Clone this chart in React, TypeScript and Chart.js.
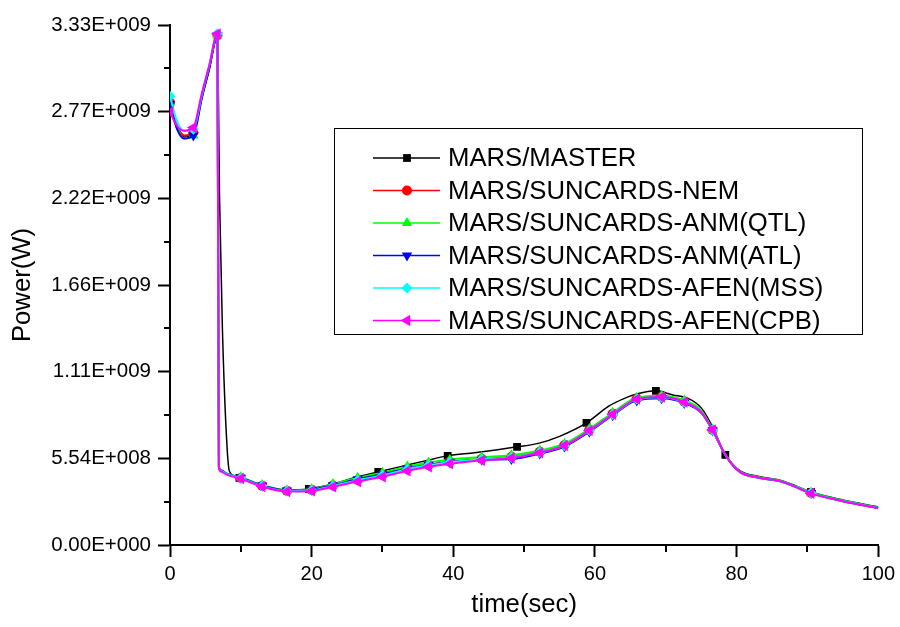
import React, { useEffect, useRef } from 'react';
import { Chart, registerables } from 'chart.js';
import { drawPoint } from 'chart.js/helpers';

Chart.register(...registerables);

// ---- Data ----
const masterTimes = [0, 1, 2, 3.3, 4.5, 5.5, 6.7, 7.0, 7.4, 8.0, 8.4, 9.8, 13, 16.5, 19.6, 23, 26, 29.4, 33, 36, 39.2, 43, 46, 49, 52, 55, 58.8, 62, 64, 66, 68.6, 71, 73, 75, 76.6, 78.4, 80.5, 83, 86.5, 90.5, 95, 100];
const masterPower = [28.2e8, 26.8e8, 26.1e8, 26.4e8, 28.6e8, 30.4e8, 32.5e8, 22.1e8, 13.8e8, 6.7e8, 4.7e8, 4.3e8, 3.8e8, 3.52e8, 3.59e8, 3.9e8, 4.3e8, 4.67e8, 5.06e8, 5.38e8, 5.7e8, 5.9e8, 6.08e8, 6.28e8, 6.5e8, 6.95e8, 7.81e8, 8.9e8, 9.35e8, 9.67e8, 9.86e8, 9.6e8, 9.41e8, 8.77e8, 7.56e8, 5.76e8, 4.74e8, 4.4e8, 4.1e8, 3.39e8, 2.88e8, 2.43e8];
const masterMarkerTimes = [0, 9.8, 19.6, 29.4, 39.2, 49, 58.8, 68.6, 78.4, 90.5];

const suncardsTimes = [0, 1, 2, 3.3, 4.5, 5.5, 6.7, 6.9, 7.2, 8, 10, 13, 16.5, 20, 23, 26.5, 30, 33.5, 36.5, 39.5, 44, 48.2, 52.2, 55.7, 59.2, 62.5, 65.9, 69.4, 72.6, 75, 76.6, 78.5, 80.5, 83, 86.5, 90.5, 95, 100];
const suncardsMarkerTimes = [0, 3.3, 6.7, 10, 13, 16.5, 20, 23, 26.5, 30, 33.5, 36.5, 39.5, 44, 48.2, 52.2, 55.7, 59.2, 62.5, 65.9, 69.4, 72.6, 76.6, 90.5];

const nemPower = [28.3e8, 26.8e8, 26.2e8, 26.4e8, 28.7e8, 30.4e8, 32.6e8, 5.0e8, 4.74e8, 4.55e8, 4.29e8, 3.78e8, 3.46e8, 3.52e8, 3.8e8, 4.16e8, 4.48e8, 4.87e8, 5.12e8, 5.32e8, 5.51e8, 5.64e8, 5.96e8, 6.4e8, 7.36e8, 8.39e8, 9.35e8, 9.48e8, 9.16e8, 8.52e8, 7.36e8, 5.7e8, 4.67e8, 4.33e8, 4.05e8, 3.33e8, 2.82e8, 2.37e8];
const anmQtlPower = [28.3e8, 26.7e8, 26.0e8, 26.2e8, 28.6e8, 30.4e8, 32.6e8, 5.0e8, 4.74e8, 4.57e8, 4.33e8, 3.83e8, 3.5e8, 3.58e8, 3.9e8, 4.3e8, 4.62e8, 5.02e8, 5.28e8, 5.46e8, 5.62e8, 5.74e8, 6.04e8, 6.48e8, 7.42e8, 8.46e8, 9.42e8, 9.55e8, 9.25e8, 8.6e8, 7.4e8, 5.72e8, 4.7e8, 4.35e8, 4.07e8, 3.36e8, 2.84e8, 2.38e8];
const anmAtlPower = [28.2e8, 26.6e8, 26.0e8, 26.2e8, 28.6e8, 30.4e8, 32.6e8, 5.05e8, 4.78e8, 4.57e8, 4.3e8, 3.8e8, 3.48e8, 3.54e8, 3.82e8, 4.2e8, 4.52e8, 4.9e8, 5.14e8, 5.3e8, 5.45e8, 5.5e8, 5.85e8, 6.3e8, 7.25e8, 8.3e8, 9.25e8, 9.38e8, 9.08e8, 8.45e8, 7.33e8, 5.68e8, 4.65e8, 4.31e8, 4.03e8, 3.32e8, 2.8e8, 2.36e8];
const afenMssPower = [28.7e8, 27.1e8, 26.5e8, 26.6e8, 28.8e8, 30.6e8, 32.7e8, 5.0e8, 4.74e8, 4.55e8, 4.28e8, 3.77e8, 3.45e8, 3.5e8, 3.78e8, 4.14e8, 4.46e8, 4.85e8, 5.1e8, 5.3e8, 5.49e8, 5.6e8, 5.92e8, 6.36e8, 7.32e8, 8.35e8, 9.32e8, 9.45e8, 9.13e8, 8.5e8, 7.34e8, 5.69e8, 4.66e8, 4.32e8, 4.04e8, 3.32e8, 2.81e8, 2.36e8];
const afenCpbPower = [27.7e8, 26.8e8, 26.5e8, 26.7e8, 28.9e8, 30.6e8, 32.7e8, 4.95e8, 4.7e8, 4.5e8, 4.24e8, 3.74e8, 3.42e8, 3.46e8, 3.72e8, 4.06e8, 4.36e8, 4.74e8, 5.0e8, 5.2e8, 5.42e8, 5.56e8, 5.9e8, 6.36e8, 7.32e8, 8.36e8, 9.33e8, 9.46e8, 9.14e8, 8.5e8, 7.36e8, 5.7e8, 4.66e8, 4.32e8, 4.04e8, 3.3e8, 2.8e8, 2.35e8];

const seriesLabels = [
  'MARS/MASTER',
  'MARS/SUNCARDS-NEM',
  'MARS/SUNCARDS-ANM(QTL)',
  'MARS/SUNCARDS-ANM(ATL)',
  'MARS/SUNCARDS-AFEN(MSS)',
  'MARS/SUNCARDS-AFEN(CPB)',
];

const yTickValues = [0, 5.543e8, 1.1087e9, 1.663e9, 2.2173e9, 2.7717e9, 3.326e9];
const yTickLabels = ['0.00E+000', '5.54E+008', '1.11E+009', '1.66E+009', '2.22E+009', '2.77E+009', '3.33E+009'];
const xTickValues = [0, 20, 40, 60, 80, 100];
const xMinorTickValues = [10, 30, 50, 70, 90];

// ---- Styles ----
const colors = ['#000000', '#ff0000', '#00ff00', '#0000ff', '#00ffff', '#ff00ff'];
const pointStyles = ['rect', 'circle', 'triangle', 'triangle', 'rectRot', 'triangle'];
const rotations = [0, 0, 0, 180, 0, 270];
const radii = [5.5, 5, 6, 6, 5.5, 6.5];
const FONT = '"Liberation Sans", Arial, sans-serif';

export default function App() {
  const canvasRef = useRef<HTMLCanvasElement | null>(null);

  useEffect(() => {
    document.body.style.margin = '0';
    const canvas = canvasRef.current;
    if (!canvas) return;

    const timesList = [masterTimes, suncardsTimes, suncardsTimes, suncardsTimes, suncardsTimes, suncardsTimes];
    const valuesList = [masterPower, nemPower, anmQtlPower, anmAtlPower, afenMssPower, afenCpbPower];
    const markerList = [masterMarkerTimes, suncardsMarkerTimes, suncardsMarkerTimes, suncardsMarkerTimes, suncardsMarkerTimes, suncardsMarkerTimes];

    const datasets = seriesLabels.map((label, i) => ({
      label,
      data: timesList[i].map((t, j) => ({ x: t, y: valuesList[i][j] })),
      borderColor: colors[i],
      backgroundColor: colors[i],
      borderWidth: i === 0 ? 1.5 : 2,
      pointStyle: pointStyles[i] as any,
      rotation: rotations[i],
      pointBorderWidth: 0,
      pointRadius: (ctx: any) => {
        const raw = ctx.raw as { x: number } | undefined;
        return raw && markerList[i].includes(raw.x) ? radii[i] : 0;
      },
      pointHoverRadius: 0,
      cubicInterpolationMode: 'monotone' as const,
      tension: 0.4,
      order: 6 - i,
    }));

    const extrasPlugin = {
      id: 'extras',
      afterDraw(chart: any) {
        const { ctx, scales, chartArea } = chart;
        const xs = scales.x;
        const ys = scales.y;
        ctx.save();
        // minor ticks
        ctx.strokeStyle = '#000';
        ctx.lineWidth = 2;
        ctx.beginPath();
        for (let k = 0; k < yTickValues.length - 1; k++) {
          const v = (yTickValues[k] + yTickValues[k + 1]) / 2;
          const py = Math.round(ys.getPixelForValue(v));
          ctx.moveTo(chartArea.left - 6, py);
          ctx.lineTo(chartArea.left, py);
        }
        xMinorTickValues.forEach((v) => {
          const px = Math.round(xs.getPixelForValue(v));
          ctx.moveTo(px, chartArea.bottom);
          ctx.lineTo(px, chartArea.bottom + 7);
        });
        ctx.stroke();

        // legend box
        const bx = 334, by = 128, bw = 528, bh = 206;
        ctx.lineWidth = 1;
        ctx.strokeStyle = '#000';
        ctx.strokeRect(bx + 0.5, by + 0.5, bw, bh);
        ctx.font = `25.7px ${FONT}`;
        ctx.textBaseline = 'middle';
        ctx.textAlign = 'left';
        seriesLabels.forEach((label, i) => {
          const cy = by + 30 + i * 32.5;
          ctx.strokeStyle = colors[i];
          ctx.lineWidth = 1.5;
          ctx.beginPath();
          ctx.moveTo(bx + 39, cy);
          ctx.lineTo(bx + 106, cy);
          ctx.stroke();
          ctx.fillStyle = colors[i];
          drawPoint(ctx, { pointStyle: pointStyles[i], rotation: rotations[i], radius: radii[i], borderWidth: 0 } as any, bx + 73, cy);
          ctx.fillStyle = '#000';
          ctx.fillText(label, bx + 114, cy + 1);
        });
        ctx.restore();
      },
    };

    const chart = new Chart(canvas, {
      type: 'line',
      data: { datasets },
      options: {
        animation: false,
        responsive: false,
        maintainAspectRatio: false,
        parsing: true,
        layout: { padding: { top: 25, right: 21, left: 0, bottom: 0 } },
        plugins: { legend: { display: false }, tooltip: { enabled: false } },
        scales: {
          x: {
            type: 'linear',
            min: 0,
            max: 100,
            afterBuildTicks: (scale: any) => {
              scale.ticks = xTickValues.map((v) => ({ value: v }));
            },
            afterFit: (scale: any) => {
              scale.height = 82;
            },
            ticks: {
              color: '#000',
              font: { family: FONT, size: 20 },
              padding: 5,
              maxRotation: 0,
              callback: (v: any) => String(v),
            },
            grid: { drawOnChartArea: false, drawTicks: true, tickLength: 12, tickWidth: 2, tickColor: '#000' },
            border: { display: true, color: '#000', width: 2 },
            title: { display: true, text: 'time(sec)', color: '#000', font: { family: FONT, size: 25.7 }, padding: { top: 0, bottom: 7 } },
          },
          y: {
            type: 'linear',
            min: 0,
            max: yTickValues[yTickValues.length - 1],
            afterBuildTicks: (scale: any) => {
              scale.ticks = yTickValues.map((v) => ({ value: v }));
            },
            afterFit: (scale: any) => {
              scale.width = 170;
            },
            ticks: {
              color: '#000',
              font: { family: FONT, size: 20.5 },
              padding: 7,
              callback: (_v: any, idx: number) => yTickLabels[idx],
            },
            grid: { drawOnChartArea: false, drawTicks: true, tickLength: 12, tickWidth: 2, tickColor: '#000' },
            border: { display: true, color: '#000', width: 2 },
            title: { display: true, text: 'Power(W)', color: '#000', font: { family: FONT, size: 25.7 }, padding: { top: 7, bottom: 0 } },
          },
        },
      },
      plugins: [extrasPlugin],
    });

    return () => chart.destroy();
  }, []);

  return (
    <div style={{ width: 900, height: 627, background: '#fff' }}>
      <canvas ref={canvasRef} width={900} height={627} style={{ display: 'block' }} />
    </div>
  );
}
